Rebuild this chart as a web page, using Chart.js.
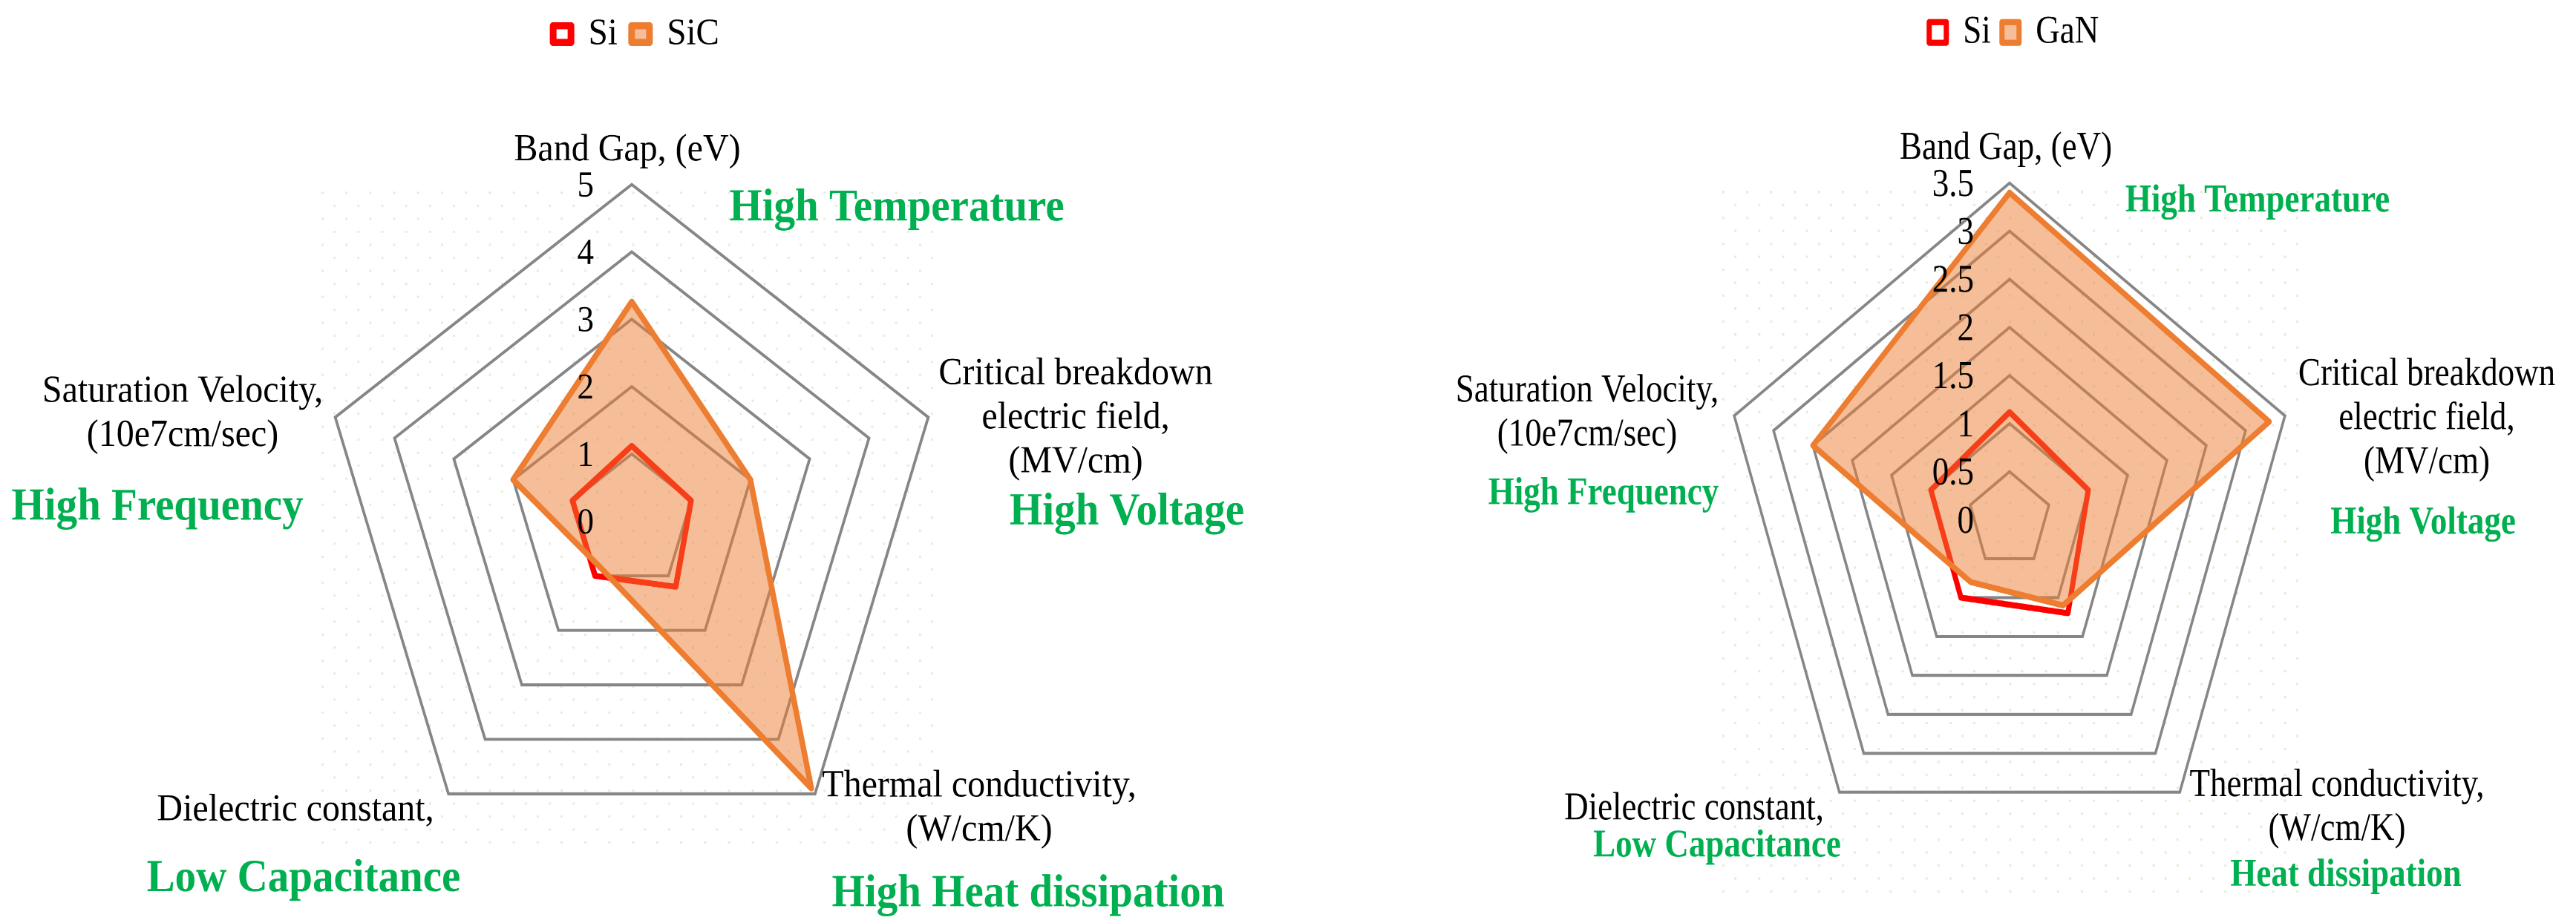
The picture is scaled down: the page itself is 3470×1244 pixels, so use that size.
<!DOCTYPE html>
<html><head><meta charset="utf-8">
<script src="https://cdn.jsdelivr.net/npm/chart.js@4.4.1/dist/chart.umd.min.js"></script>
<style>
html,body{margin:0;padding:0;background:#fff;width:3470px;height:1244px;overflow:hidden;}
.wrap{position:absolute;top:0;width:1735px;transform-origin:0 0;}
</style></head><body>
<div class="wrap" style="left:0;height:1151px;transform:scaleY(1.081)"><canvas id="cl" width="1735" height="1151"></canvas></div>
<div class="wrap" style="left:1735px;height:1069px;transform:scaleY(1.1637)"><canvas id="cr" width="1735" height="1069"></canvas></div>
<script>
// ---------- data ----------
const categories = [
  'Band Gap, (eV)',
  ['Critical breakdown', 'electric field,', '(MV/cm)'],
  ['Thermal conductivity,', '(W/cm/K)'],
  'Dielectric constant,',
  ['Saturation Velocity,', '(10e7cm/sec)']
];
const siLabel = 'Si';
const sicLabel = 'SiC';
const ganLabel = 'GaN';
const siValuesA = [1.12, 1.0, 1.2, 1.0, 1.0];
const sicValues = [3.26, 2.0, 4.9, 0.85, 2.0];
const siValuesB = [1.12, 1.0, 1.2, 1.0, 1.0];
const ganValues = [3.4, 3.3, 1.1, 0.8, 2.5];
const tickLabelsA = ['0', '1', '2', '3', '4', '5'];
const tickLabelsB = ['0', '0.5', '1', '1.5', '2', '2.5', '3', '3.5'];
const benefitsA = ['High Temperature', 'High Voltage', 'High Heat dissipation', 'Low Capacitance', 'High Frequency'];
const benefitsB = ['High Temperature', 'High Voltage', 'Heat dissipation', 'Low Capacitance', 'High Frequency'];

// ---------- styling / layout ----------
const FAMILY = "'Liberation Serif', 'Times New Roman', serif";
Chart.defaults.font.family = FAMILY;
const RED = '#FF0000', ORANGE = '#ED7D31', FILL = 'rgba(237,125,49,0.5)', GREEN = '#00B050', GRID = '#868686';

const cfgA = {
  center: [851, 650], radius: 420, max: 5, step: 1, ticks: tickLabelsA, benefits: benefitsA,
  font: 48, greenFont: 57, tickFont: 45, tickGap: 51, lineGap: 55,
  lineW: 7.5, gridW: 3.7,
  legendFont: 47, legendBox: [24, 21], legendBorder: 9, legendPad: 19, legendPadding: {left: 0, right: 21},
  labelOff: [[-6, -450], [598, -171], [468, 343], [-453, 373], [-605, -149]],
  benefitOff: [[357, -375], [667, 4], [534, 480], [-442, 461], [-639, -2]],
  dots: [-418, -411, 414, 414], dotStep: [32.2, 16.2]
};
const cfgB = {
  center: [972, 602], radius: 390, max: 3.5, step: 0.5, ticks: tickLabelsB, benefits: benefitsB,
  font: 45, greenFont: 45, tickFont: 45, tickGap: 48, lineGap: 51,
  lineW: 7, gridW: 3.5,
  legendFont: 45, legendBox: [23, 24], legendBorder: 7, legendPad: 15, legendPadding: {left: 221, right: 0},
  labelOff: [[-5, -418], [562, -156], [441, 320], [-425, 347], [-569, -137]],
  benefitOff: [[334, -357], [557, 16], [453, 424], [-394, 390], [-547, -18]],
  dots: [-387, -381, 386, 441], dotStep: [32.2, 15.0]
};

function makeDecor(cfg) {
  return {
    id: 'decor',
    beforeDraw(chart) {
      const s = chart.scales.r, ctx = chart.ctx;
      const [x0, y0, x1, y1] = cfg.dots, [sx, sy] = cfg.dotStep;
      ctx.save();
      ctx.fillStyle = '#E2EFDA';
      let row = 0;
      for (let y = s.yCenter + y0; y <= s.yCenter + y1; y += sy, row++) {
        for (let x = s.xCenter + x0 + (row % 2 ? sx / 2 : 0); x <= s.xCenter + x1; x += sx) {
          ctx.fillRect(x, y, 3, 2.8);
        }
      }
      ctx.restore();
    },
    afterDatasetsDraw(chart) {
      const s = chart.scales.r, ctx = chart.ctx;
      ctx.save();
      ctx.font = cfg.tickFont + 'px ' + FAMILY;
      ctx.fillStyle = '#000';
      ctx.textAlign = 'right';
      ctx.textBaseline = 'middle';
      s.ticks.forEach(t => {
        ctx.fillText(t.label, s.xCenter - cfg.tickGap, s.yCenter - s.getDistanceFromCenterForValue(t.value) + 3);
      });
      ctx.restore();
    },
    afterDraw(chart) {
      const s = chart.scales.r, ctx = chart.ctx;
      ctx.save();
      ctx.textAlign = 'center';
      ctx.textBaseline = 'alphabetic';
      chart.data.labels.forEach((lab, i) => {
        const lines = Array.isArray(lab) ? lab : [lab];
        const [dx, dy] = cfg.labelOff[i];
        ctx.font = cfg.font + 'px ' + FAMILY;
        ctx.fillStyle = '#000';
        lines.forEach((ln, k) => ctx.fillText(ln, s.xCenter + dx, s.yCenter + dy + k * cfg.lineGap));
        const [bx, by] = cfg.benefitOff[i];
        ctx.font = 'bold ' + cfg.greenFont + 'px ' + FAMILY;
        ctx.fillStyle = GREEN;
        ctx.fillText(cfg.benefits[i], s.xCenter + bx, s.yCenter + by);
      });
      ctx.restore();
    }
  };
}

function build(canvasId, cfg, baseValues, otherLabel, otherValues) {
  return new Chart(document.getElementById(canvasId), {
    type: 'radar',
    data: {
      labels: categories,
      datasets: [
        { label: siLabel, data: baseValues, borderColor: RED, backgroundColor: '#FFFFFF',
          borderWidth: cfg.lineW, fill: false, order: 1 },
        { label: otherLabel, data: otherValues, borderColor: ORANGE, backgroundColor: FILL,
          borderWidth: cfg.lineW, fill: true, order: 0 }
      ]
    },
    options: {
      responsive: false,
      animation: false,
      devicePixelRatio: 2,
      events: [],
      layout: { padding: cfg.legendPadding },
      elements: {
        line: { tension: 0, borderJoinStyle: 'round' },
        point: { radius: 0, hoverRadius: 0 }
      },
      scales: {
        r: {
          min: 0, max: cfg.max,
          startAngle: 0,
          angleLines: { display: false },
          grid: { color: GRID, lineWidth: cfg.gridW },
          pointLabels: { display: false },
          ticks: { display: false, stepSize: cfg.step, callback: (v, i) => cfg.ticks[i] },
          afterFit: (scale) => {
            scale.xCenter = cfg.center[0];
            scale.yCenter = cfg.center[1];
            scale.drawingArea = cfg.radius;
          }
        }
      },
      plugins: {
        tooltip: { enabled: false },
        legend: {
          position: 'top',
          labels: {
            color: '#000',
            font: { size: cfg.legendFont, family: FAMILY },
            boxWidth: cfg.legendBox[0],
            boxHeight: cfg.legendBox[1],
            padding: cfg.legendPad,
            sort: (a, b) => a.datasetIndex - b.datasetIndex,
            generateLabels: (chart) => {
              const items = Chart.defaults.plugins.legend.labels.generateLabels(chart);
              items.forEach(it => { it.lineWidth = cfg.legendBorder; });
              return items;
            }
          }
        }
      }
    },
    plugins: [makeDecor(cfg)]
  });
}

build('cl', cfgA, siValuesA, sicLabel, sicValues);
build('cr', cfgB, siValuesB, ganLabel, ganValues);
</script>
</body></html>
